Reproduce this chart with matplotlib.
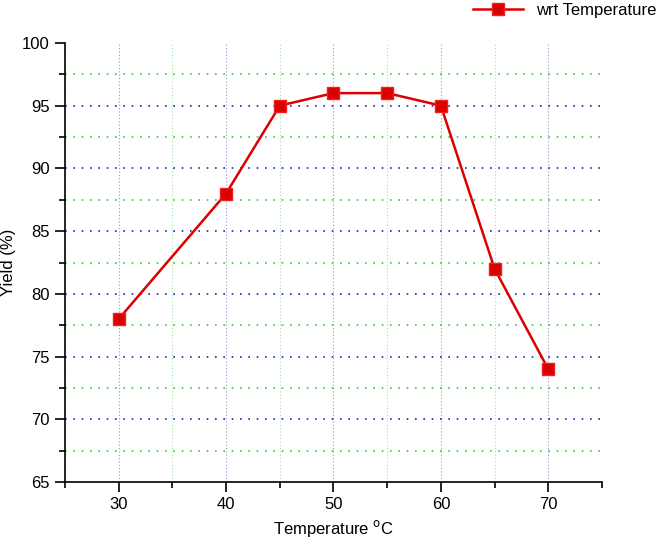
import matplotlib
matplotlib.use('Agg')
import matplotlib.pyplot as plt
import numpy as np
from matplotlib.ticker import MultipleLocator

plt.rcParams['font.family'] = ['Liberation Sans', 'DejaVu Sans']

temperature = [30, 40, 45, 50, 55, 60, 65, 70]
yield_pct = [78, 88, 95, 96, 96, 95, 82, 74]

fig = plt.figure(figsize=(6.63, 5.43), dpi=100)
ax = fig.add_axes([0.098, 0.112, 0.81, 0.809])

ax.set_xlim(25, 75)
ax.set_ylim(65, 100)
ax.xaxis.set_major_locator(MultipleLocator(10))
ax.xaxis.set_minor_locator(MultipleLocator(5))
ax.yaxis.set_major_locator(MultipleLocator(5))
ax.yaxis.set_minor_locator(MultipleLocator(2.5))

# vertical grid
ax.grid(axis='x', which='major', color='#9a90c8', linestyle=(0, (1, 2)), linewidth=0.8)
ax.grid(axis='x', which='minor', color='#a8e0a8', linestyle=(0, (1, 2)), linewidth=0.8)
# horizontal grid (none on the top edge)
ax.hlines(np.arange(70, 100, 5), 25, 75, colors='#2020c0', linestyles=[(0, (1, 4))], linewidth=1.2, zorder=1)
ax.hlines(np.arange(67.5, 100, 5), 25, 75, colors='#30d030', linestyles=[(0, (1, 4))], linewidth=1.2, zorder=1)
ax.set_axisbelow(True)

ax.plot(temperature, yield_pct, color='#dd0000', linewidth=1.8, marker='s',
        markersize=9, markerfacecolor='#dd0000', markeredgecolor='#ee2020',
        label='wrt Temperature', zorder=3)

for s in ['top', 'right']:
    ax.spines[s].set_visible(False)
for s in ['left', 'bottom']:
    ax.spines[s].set_linewidth(1.2)

ax.tick_params(which='both', direction='out', width=1.2, labelsize=12)
ax.tick_params(which='major', length=7, pad=4)
ax.tick_params(which='minor', length=4)

ax.set_xlabel('Temperature $^{\\mathrm{o}}$C', fontsize=12, labelpad=4)
ax.set_ylabel('Yield (%)', fontsize=12, labelpad=4)

ax.legend(loc='upper right', bbox_to_anchor=(1.13, 1.125), frameon=False,
          fontsize=12, handlelength=3)

fig.savefig('out.png', dpi=100)
